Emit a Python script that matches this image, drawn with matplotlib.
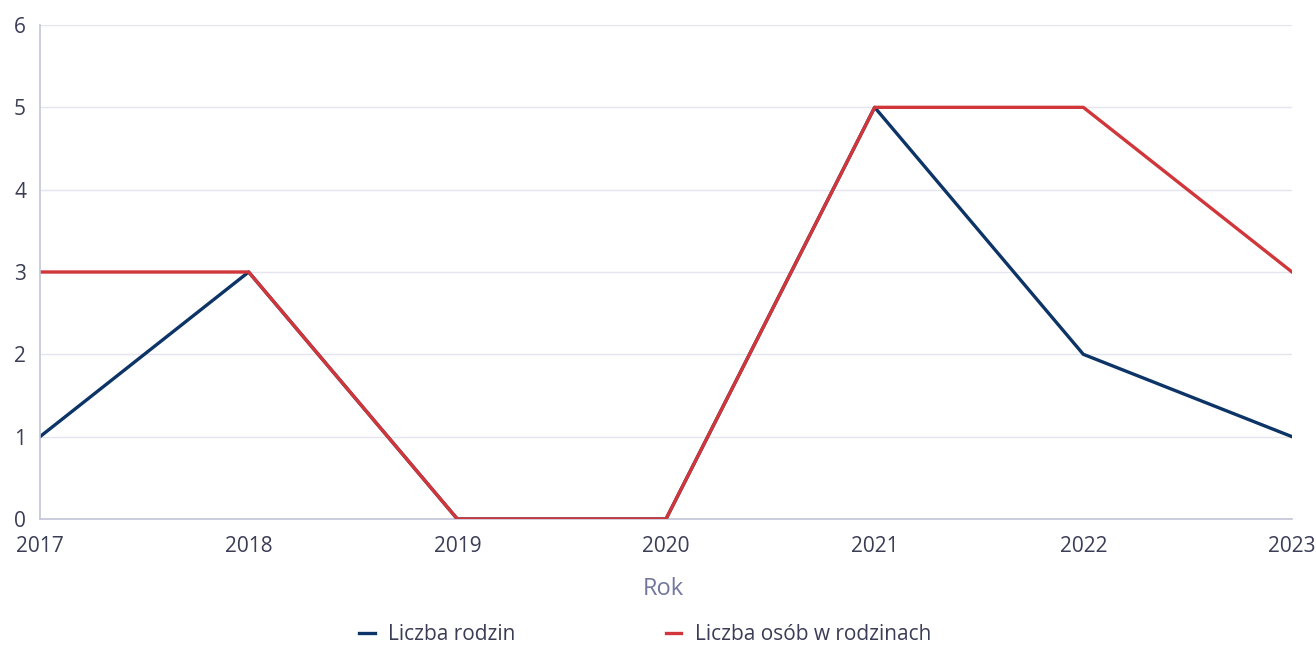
import matplotlib.pyplot as plt

years = [2017, 2018, 2019, 2020, 2021, 2022, 2023]
liczba_rodzin = [1, 3, 0, 0, 5, 2, 1]
liczba_osob = [3, 3, 0, 0, 5, 5, 3]
y_ticks = [0, 1, 2, 3, 4, 5, 6]

plt.rcParams['font.family'] = ['Open Sans', 'DejaVu Sans']
text_color = '#3a3d55'

fig = plt.figure(figsize=(13.16, 6.47), dpi=100)
ax = fig.add_axes([40 / 1316, 1 - 519 / 647, 1252 / 1316, 494 / 647])

ax.plot(years, liczba_rodzin, color='#0c3466', lw=2.4, label='Liczba rodzin', zorder=3)
ax.plot(years, liczba_osob, color='#d0363a', lw=2.4, label='Liczba osób w rodzinach', zorder=4)

ax.set_xlim(2017, 2023)
ax.set_ylim(0, 6)
ax.set_xticks(years)
ax.set_yticks(y_ticks)
ax.tick_params(length=0, labelsize=15, labelcolor=text_color)
ax.tick_params(axis='x', pad=12)
ax.tick_params(axis='y', pad=10)
ax.grid(axis='y', color='#e4e5ee', lw=1)
ax.set_axisbelow(True)
for s in ['top', 'right']:
    ax.spines[s].set_visible(False)
for s in ['left', 'bottom']:
    ax.spines[s].set_color('#c2c5d8')
    ax.spines[s].set_linewidth(1.2)
ax.spines['left'].set_zorder(5)

fig.text(663 / 1316, 1 - 589 / 647, 'Rok', ha='center', va='center',
         fontsize=17, color='#72779e')

fig.legend(loc='center', bbox_to_anchor=(645 / 1316, 1 - 635 / 647), ncol=2,
           frameon=False, fontsize=15, labelcolor=text_color,
           handlelength=0.75, handletextpad=0.65, columnspacing=7.2)

fig.savefig('out.png', dpi=100)
